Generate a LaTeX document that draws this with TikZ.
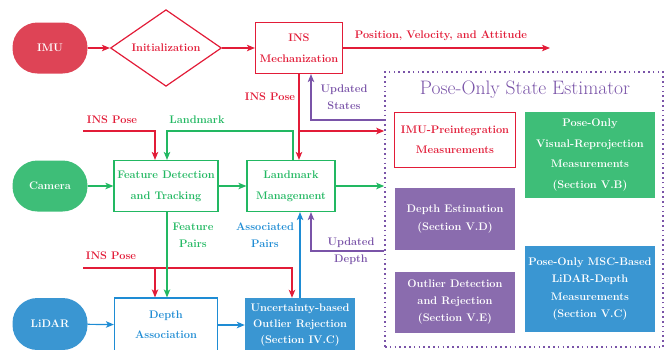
\documentclass[tikz,border=0pt]{standalone}
\usetikzlibrary{arrows.meta,shapes.geometric,calc}
\definecolor{ired}{RGB}{226,28,56}
\definecolor{imufill}{RGB}{222,68,86}
\definecolor{igreen}{RGB}{34,184,98}
\definecolor{camfill}{RGB}{62,190,120}
\definecolor{iblue}{RGB}{30,140,212}
\definecolor{lidfill}{RGB}{58,150,210}
\definecolor{ipurple}{RGB}{122,84,168}
\definecolor{purfill}{RGB}{138,108,174}
\tikzset{
  lbl/.style={font=\fontsize{11}{17}\selectfont\bfseries, align=center},
  pill/.style={lbl, rounded corners=25pt, minimum width=75pt, minimum height=51pt, text=white},
  obox/.style={lbl, draw, line width=1.2pt, fill=white},
  fbox/.style={lbl, text=white},
  link/.style={line width=1.2pt, -{Stealth[length=8pt,width=6.5pt,inset=2pt]}},
}
\begin{document}
\begin{tikzpicture}[x=1pt,y=-1pt]
  \useasboundingbox (0,0) rectangle (667,349);
  % sensors
  \node (imu) [pill, fill=imufill] at (50,48) {IMU};
  \node (cam) [pill, fill=camfill] at (50,186) {Camera};
  \node (lidar) [pill, fill=lidfill, minimum height=52pt] at (50,324) {LiDAR};
  % INS branch
  \node (init) [lbl, draw=ired, text=ired, line width=1.2pt, diamond, inner sep=0pt,
    minimum width=111pt, minimum height=76pt] at (166,48) {Initialization};
  \node (ins) [obox, draw=ired, text=ired, minimum width=87pt, minimum height=51pt,
    font=\fontsize{11}{21}\selectfont\bfseries] at (299,48) {INS\\Mechanization};
  \coordinate (out) at (550,48);
  % front end
  \node (fdt) [obox, draw=igreen, text=igreen, minimum width=103pt, minimum height=51pt,
    font=\fontsize{11}{21}\selectfont\bfseries] at (166,186) {Feature Detection\\and Tracking};
  \node (lm) [obox, draw=igreen, text=igreen, minimum width=88pt, minimum height=51pt,
    font=\fontsize{11}{21}\selectfont\bfseries] at (291,186) {Landmark\\Management};
  \node (da) [obox, draw=iblue, text=iblue, minimum width=103pt, minimum height=54pt,
    font=\fontsize{11}{20}\selectfont\bfseries] at (166,325) {Depth\\Association};
  \node (uor) [fbox, fill=lidfill, minimum width=110pt, minimum height=54pt,
    font=\fontsize{11}{16}\selectfont\bfseries] at (300,325)
    {Uncertainty-based\\Outlier Rejection\\(Section IV.C)};
  % estimator
  \node (est) [draw=ipurple, line width=1.6pt, dash pattern=on 1.6pt off 3.2pt,
    minimum width=278pt, minimum height=275pt] at (524,209.5) {};
  \node (title) [text=ipurple, font=\fontsize{19.5}{22}\selectfont] at (525,90)
    {Pose-Only State Estimator};
  \node (pre) [obox, draw=ired, text=ired, minimum width=121pt, minimum height=55pt,
    font=\fontsize{11}{20}\selectfont\bfseries] at (455,140) {IMU-Preintegration\\Measurements};
  \node (vis) [fbox, fill=camfill, minimum width=130pt, minimum height=86pt,
    font=\fontsize{11}{20.5}\selectfont\bfseries] at (590,155)
    {Pose-Only\\Visual-Reprojection\\Measurements\\(Section V.B)};
  \node (dep) [fbox, fill=purfill, minimum width=120pt, minimum height=62pt,
    font=\fontsize{11}{18}\selectfont\bfseries] at (455,219)
    {Depth Estimation\\(Section V.D)};
  \node (outl) [fbox, fill=purfill, minimum width=120pt, minimum height=61pt]
    at (455,302) {Outlier Detection\\and Rejection\\(Section V.E)};
  \node (msc) [fbox, fill=lidfill, minimum width=130pt, minimum height=86pt,
    font=\fontsize{11}{17.6}\selectfont\bfseries] at (590,289)
    {Pose-Only MSC-Based\\LiDAR-Depth\\Measurements\\(Section V.C)};
  % pose inputs
  \coordinate (pose1) at (83,131);
  \coordinate (pose2) at (83,268);
  % red connectors
  \draw[link, ired] (imu) -- (init);
  \draw[link, ired] (init) -- (ins);
  \draw[link, ired] (ins.east) -- (out);
  \draw[link, ired] (ins.south) -- (ins.south |- lm.north);
  \draw[link, ired] (ins.south |- 0,131) -- (est.west |- 0,131);
  \draw[link, ired] (pose1) -| ([xshift=-11pt]fdt.north);
  \draw[link, ired] (pose2) -| ([xshift=-8pt]uor.north);
  \draw[link, ired] ([xshift=-11pt]da.north |- pose2) -- ([xshift=-11pt]da.north);
  % green connectors
  \draw[link, igreen] (cam) -- (fdt);
  \draw[link, igreen] (fdt) -- (lm);
  \draw[link, igreen] (lm.east) -- (lm.east -| est.west);
  \draw[link, igreen] ([xshift=2pt]lm.north) |- ([xshift=1pt]fdt.north |- pose1)
    -- ([xshift=1pt]fdt.north);
  \draw[link, igreen] ([xshift=1pt]fdt.south) -- ([xshift=1pt]da.north);
  % blue connectors
  \draw[link, iblue] (lidar) -- (da);
  \draw[link, iblue] (da) -- (uor);
  \draw[link, iblue] (uor.north) -- (uor.north |- lm.south);
  % purple feedback
  \draw[link, ipurple] (est.west |- 0,120) -| ([xshift=12pt]ins.south);
  \draw[link, ipurple] (est.west |- 0,251) -| ([xshift=20pt]lm.south);
  % labels
  \node (tpva) [lbl, text=ired] at (441,36) {Position, Velocity, and Attitude};
  \node (tpose0) [lbl, text=ired] at (270,97) {INS Pose};
  \node (tstates) [lbl, text=ipurple] at (344,97) {Updated\\States};
  \node (tpose1) [lbl, text=ired] at (112,120) {INS Pose};
  \node (tland) [lbl, text=igreen] at (197,120) {Landmark};
  \node (tfeat) [lbl, text=igreen] at (193,235) {Feature\\Pairs};
  \node (tassoc) [lbl, text=iblue] at (265,235) {Associated\\Pairs};
  \node (tdepth) [lbl, text=ipurple] at (351,251) {Updated\\Depth};
  \node (tpose2) [lbl, text=ired] at (111,256) {INS Pose};
\end{tikzpicture}
\end{document}
